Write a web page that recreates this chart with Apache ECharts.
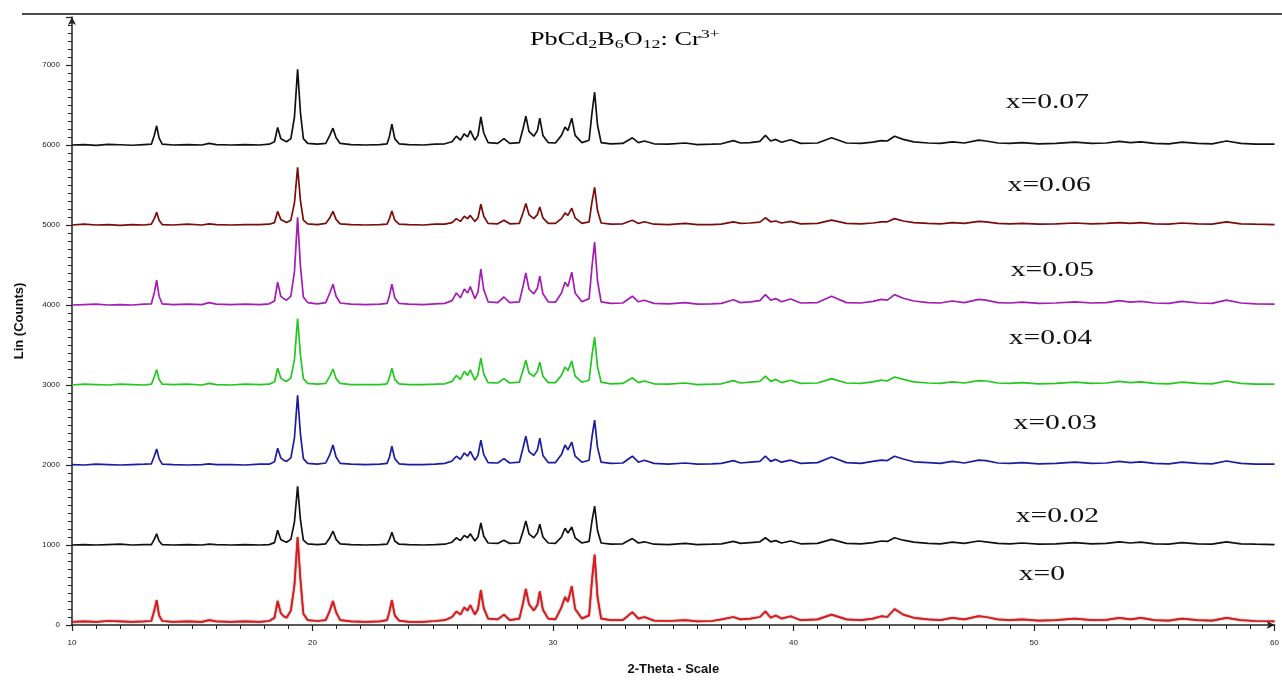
<!DOCTYPE html>
<html><head><meta charset="utf-8">
<script src="https://cdn.jsdelivr.net/npm/echarts@6/dist/echarts.min.js"></script>
<style>html,body{margin:0;padding:0;background:#fff}#c{width:1282px;height:681px}</style>
</head><body><div id="c"></div>
<script>
const twoTheta = [
 10.0, 10.5, 11.0, 11.5, 12.0, 12.5, 13.0, 13.3, 13.42, 13.52,
 13.62, 13.75, 14.2, 14.8, 15.4, 15.7, 16.0, 16.6, 17.2, 17.8,
 18.2, 18.42, 18.55, 18.68, 18.8, 18.92, 19.1, 19.25, 19.38, 19.5,
 19.62, 19.8, 20.2, 20.55, 20.72, 20.85, 20.98, 21.15, 21.6, 22.2,
 22.8, 23.1, 23.2, 23.3, 23.42, 23.6, 24.0, 24.6, 25.1, 25.5,
 25.8, 25.98, 26.15, 26.31, 26.45, 26.56, 26.75, 26.88, 27.0, 27.12,
 27.3, 27.7, 27.96, 28.2, 28.6, 28.75, 28.87, 29.0, 29.2, 29.35,
 29.45, 29.58, 29.8, 30.1, 30.35, 30.5, 30.62, 30.78, 30.92, 31.2,
 31.5, 31.62, 31.73, 31.85, 32.0, 32.4, 32.9, 33.3, 33.55, 33.8,
 34.2, 34.8, 35.5, 36.0, 36.6, 37.0, 37.5, 37.8, 38.2, 38.6,
 38.83, 39.05, 39.26, 39.5, 39.88, 40.3, 41.0, 41.58, 42.2, 42.8,
 43.3, 43.65, 43.9, 44.2, 44.56, 45.0, 45.6, 46.1, 46.6, 47.1,
 47.7, 48.0, 48.5, 49.0, 49.5, 50.2, 50.9, 51.7, 52.4, 53.0,
 53.55, 54.0, 54.45, 55.0, 55.6, 56.15, 56.8, 57.4, 58.0, 58.6,
 59.2, 60.0
];
// intensities above each pattern's own baseline (counts)
const x000 = [
 40, 45, 40, 50, 45, 40, 45, 50, 180, 310,
 120, 50, 40, 45, 40, 60, 45, 40, 45, 40,
 50, 90, 300, 150, 110, 90, 180, 500, 1100, 560,
 140, 60, 50, 60, 180, 300, 160, 60, 45, 40,
 45, 60, 170, 310, 120, 55, 40, 40, 50, 60,
 100, 170, 130, 220, 180, 250, 130, 200, 435, 210,
 80, 70, 130, 60, 80, 270, 450, 260, 180, 250,
 420, 190, 80, 70, 220, 350, 290, 485, 200, 80,
 120, 560, 880, 350, 80, 60, 60, 160, 80, 100,
 55, 50, 60, 45, 50, 70, 100, 70, 80, 100,
 170, 90, 120, 80, 110, 60, 70, 130, 70, 60,
 80, 110, 100, 200, 130, 90, 70, 60, 90, 70,
 110, 100, 70, 60, 70, 55, 60, 80, 60, 65,
 90, 70, 90, 60, 55, 80, 60, 55, 90, 60,
 50, 45
];
const x002 = [
 0, 5, 0, 5, 10, 0, 5, 5, 70, 140,
 50, 5, 0, 5, 0, 10, 5, 0, 5, 0,
 5, 30, 185, 70, 50, 35, 70, 290, 735, 310,
 60, 15, 5, 15, 90, 175, 70, 15, 5, 0,
 5, 10, 70, 160, 50, 10, 5, 0, 5, 10,
 35, 90, 55, 120, 90, 140, 50, 100, 275, 110,
 25, 20, 60, 20, 25, 170, 300, 140, 90, 150,
 260, 100, 25, 20, 100, 210, 150, 225, 90, 25,
 45, 300, 485, 180, 25, 10, 15, 80, 25, 40,
 10, 5, 20, 5, 10, 15, 45, 20, 30, 40,
 90, 40, 55, 25, 50, 15, 20, 70, 20, 15,
 30, 50, 45, 90, 60, 35, 20, 15, 35, 20,
 50, 40, 20, 15, 25, 10, 15, 30, 15, 20,
 40, 25, 35, 15, 10, 30, 15, 10, 40, 15,
 10, 5
];
const x003 = [
 5, 0, 10, 5, 0, 5, 10, 15, 110, 200,
 80, 10, 5, 0, 5, 15, 5, 5, 0, 10,
 10, 40, 210, 90, 60, 45, 90, 340, 870, 380,
 80, 20, 10, 25, 130, 250, 100, 20, 10, 5,
 10, 20, 100, 235, 80, 15, 5, 5, 10, 20,
 50, 110, 70, 150, 110, 170, 60, 120, 310, 130,
 30, 25, 80, 25, 35, 210, 360, 170, 120, 190,
 335, 120, 30, 30, 130, 250, 190, 285, 110, 35,
 60, 350, 560, 220, 35, 20, 25, 110, 35, 60,
 20, 10, 25, 10, 15, 20, 55, 25, 35, 45,
 110, 45, 70, 35, 60, 20, 30, 100, 30, 20,
 45, 60, 55, 110, 75, 40, 30, 20, 45, 25,
 60, 55, 25, 20, 30, 15, 20, 35, 20, 25,
 45, 30, 40, 20, 15, 35, 20, 15, 50, 20,
 10, 10
];
const x004 = [
 0, 10, 5, 0, 10, 5, 0, 10, 100, 190,
 70, 10, 5, 10, 0, 20, 5, 0, 10, 5,
 10, 40, 210, 90, 60, 45, 90, 320, 830, 370,
 80, 20, 10, 20, 110, 200, 80, 20, 5, 5,
 5, 15, 95, 210, 70, 15, 5, 5, 10, 15,
 45, 120, 70, 170, 120, 190, 60, 130, 335, 140,
 30, 25, 80, 25, 35, 180, 310, 150, 110, 170,
 285, 110, 30, 30, 120, 225, 180, 300, 110, 35,
 60, 370, 600, 230, 35, 15, 20, 90, 30, 50,
 15, 10, 25, 5, 10, 15, 55, 25, 35, 45,
 110, 45, 70, 30, 60, 20, 25, 80, 25, 20,
 40, 60, 50, 100, 70, 40, 25, 20, 40, 25,
 55, 50, 25, 20, 30, 15, 20, 35, 20, 25,
 45, 30, 40, 20, 15, 35, 20, 15, 50, 20,
 10, 10
];
const x005 = [
 0, 5, 10, 0, 5, 0, 10, 15, 150, 310,
 110, 15, 5, 10, 5, 30, 10, 5, 10, 5,
 15, 50, 285, 110, 80, 60, 110, 420, 1095, 480,
 100, 30, 15, 30, 150, 260, 110, 25, 10, 5,
 10, 20, 120, 260, 90, 20, 10, 5, 15, 20,
 55, 150, 90, 200, 150, 230, 80, 160, 450, 190,
 40, 30, 100, 30, 40, 230, 400, 200, 140, 210,
 360, 140, 40, 35, 150, 285, 230, 410, 150, 40,
 80, 480, 785, 300, 40, 20, 25, 110, 40, 60,
 20, 15, 30, 10, 15, 20, 65, 30, 40, 55,
 130, 60, 80, 40, 75, 25, 30, 110, 30, 25,
 45, 70, 60, 130, 85, 50, 30, 25, 50, 30,
 70, 60, 30, 25, 35, 20, 25, 40, 25, 30,
 55, 35, 45, 25, 20, 45, 25, 20, 60, 25,
 15, 10
];
const x006 = [
 0, 10, 0, 5, -5, 5, 0, 10, 80, 160,
 60, 5, 0, 10, 0, 15, 5, 0, 5, 5,
 10, 30, 170, 70, 50, 30, 60, 280, 720, 300,
 60, 15, 5, 20, 90, 170, 70, 15, 5, 0,
 5, 10, 80, 175, 60, 10, 5, 0, 10, 10,
 30, 80, 45, 110, 80, 120, 45, 90, 260, 110,
 20, 15, 60, 15, 20, 150, 270, 130, 80, 130,
 225, 90, 20, 20, 80, 150, 120, 210, 90, 20,
 40, 290, 470, 180, 25, 10, 15, 60, 20, 40,
 10, 5, 20, 5, 5, 10, 40, 20, 25, 35,
 90, 40, 50, 25, 45, 15, 20, 60, 20, 15,
 25, 40, 40, 80, 50, 30, 20, 15, 30, 20,
 45, 40, 20, 15, 20, 10, 15, 25, 15, 20,
 30, 20, 30, 15, 10, 25, 15, 10, 40, 15,
 10, 5
];
const x007 = [
 0, 5, -5, 8, 3, -3, 5, 10, 120, 240,
 90, 10, 0, 5, 0, 20, 5, 0, 5, 0,
 10, 40, 220, 80, 60, 40, 80, 350, 945, 400,
 80, 20, 10, 20, 120, 210, 90, 20, 5, 0,
 5, 15, 110, 260, 80, 15, 5, 0, 10, 15,
 40, 110, 60, 140, 100, 180, 60, 120, 350, 150,
 30, 20, 80, 20, 30, 200, 360, 170, 110, 180,
 335, 120, 30, 25, 120, 225, 180, 335, 120, 30,
 60, 400, 660, 250, 30, 15, 20, 90, 30, 50,
 15, 10, 25, 5, 10, 15, 55, 25, 30, 45,
 120, 50, 70, 35, 65, 20, 25, 90, 25, 20,
 35, 55, 50, 110, 70, 40, 25, 20, 40, 25,
 60, 50, 25, 20, 30, 15, 20, 35, 20, 25,
 45, 30, 40, 20, 15, 35, 20, 15, 50, 20,
 10, 10
];
const offsets = [0, 1000, 2000, 3000, 4000, 5000, 6000];
const seriesNames = ['x=0', 'x=0.02', 'x=0.03', 'x=0.04', 'x=0.05', 'x=0.06', 'x=0.07'];
const seriesColors = ['#e4161a', '#111111', '#1c1ca0', '#22c81e', '#a41cb4', '#7a0c0c', '#111111'];
const patterns = [x000, x002, x003, x004, x005, x006, x007];
// label anchor positions (2θ at left edge, counts at centre) for the x= tags
const labelPos = [[49.36, 622], [49.24, 1356], [49.15, 2512], [48.95, 3582], [49.03, 4428], [48.9, 5485], [48.82, 6530]];

const chart = echarts.init(document.getElementById('c'), null, {renderer: 'canvas'});
const series = patterns.map((p, k) => ({
  name: seriesNames[k],
  type: 'line',
  symbol: 'none',
  animation: false,
  z: 10 - k,
  lineStyle: {color: seriesColors[k], width: 1.7,
    shadowColor: k === 0 ? 'rgba(60,0,0,0.8)' : 'transparent', shadowBlur: k === 0 ? 1.5 : 0},
  data: twoTheta.map((t, i) => [t, p[i] + offsets[k]])
}));

const option = {
  backgroundColor: '#fff',
  animation: false,
  grid: {left: 72, right: 2, top: 17, bottom: 53, containLabel: false},
  xAxis: {
    type: 'value', min: 10, max: 60, interval: 10,
    name: '2-Theta - Scale', nameLocation: 'middle', nameGap: 38,
    nameTextStyle: {fontFamily: 'Liberation Sans', fontSize: 13, fontWeight: 'bold', color: '#111'},
    axisLine: {lineStyle: {color: '#222', width: 1.5}, symbol: ['none', 'arrow'], symbolSize: [6, 8]},
    axisTick: {show: true, length: 6, lineStyle: {color: '#222', width: 1.2}},
    minorTick: {show: true, splitNumber: 10, length: 4, lineStyle: {color: '#222', width: 1}},
    axisLabel: {fontFamily: 'Liberation Sans', fontSize: 8, color: '#222', margin: 14},
    splitLine: {show: false}
  },
  yAxis: {
    type: 'value', min: 0, max: 7600, interval: 1000,
    name: 'Lin (Counts)', nameLocation: 'middle', nameGap: 46, nameRotate: 90,
    nameTextStyle: {fontFamily: 'Liberation Sans', fontSize: 13, fontWeight: 'bold', color: '#111'},
    axisLine: {show: true, lineStyle: {color: '#222', width: 1.5}, symbol: ['none', 'arrow'], symbolSize: [6, 8]},
    axisTick: {show: true, length: 6, lineStyle: {color: '#222', width: 1.2}},
    minorTick: {show: true, splitNumber: 10, length: 4, lineStyle: {color: '#222', width: 1}},
    axisLabel: {fontFamily: 'Liberation Sans', fontSize: 8, color: '#222', margin: 12, showMaxLabel: false,
      formatter: v => String(v)},
    splitLine: {show: false}
  },
  series: series
};
chart.setOption(option);

const graphics = [
  {type: 'line', shape: {x1: 22, y1: 14, x2: 1282, y2: 14}, style: {stroke: '#111', lineWidth: 1.5}},
  {type: 'text', x: 530, y: 40, scaleX: 1.38, style: {
    text: '{n|PbCd}{s|2}{n|B}{s|6}{n|O}{s|12}{n|: Cr}{p|3+}',
    verticalAlign: 'middle', align: 'left',
    rich: {
      n: {fontFamily: 'Liberation Serif', fontSize: 19, color: '#111'},
      s: {fontFamily: 'Liberation Serif', fontSize: 13, color: '#111', padding: [10, 0, 0, 0]},
      p: {fontFamily: 'Liberation Serif', fontSize: 13, color: '#111', padding: [0, 0, 10, 0]}
    }}}
];
labelPos.forEach((d, k) => {
  const px = chart.convertToPixel({gridIndex: 0}, d);
  graphics.push({type: 'text', x: px[0], y: px[1], scaleX: 1.48, style: {
    text: seriesNames[k], fontFamily: 'Liberation Serif', fontSize: 20, fill: '#111',
    verticalAlign: 'middle', align: 'left'}});
});
chart.setOption({graphic: graphics});
</script>
</body></html>
